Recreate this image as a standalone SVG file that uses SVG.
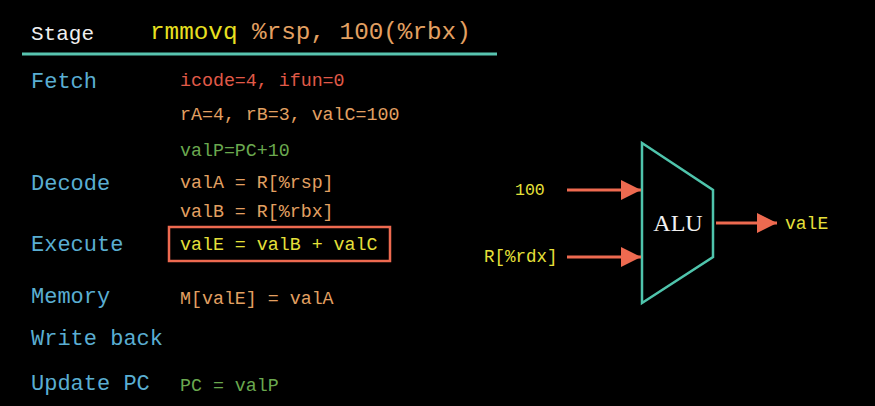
<svg xmlns="http://www.w3.org/2000/svg" width="875" height="406" viewBox="0 0 875 406">
<defs>
<style>
.mono{font-family:"Liberation Mono","DejaVu Sans Mono",monospace}
.stage{font-size:22px;fill:#5aaed2}
.val{font-size:18.3px}
.red{fill:#e05a48}
.org{fill:#e3a062}
.grn{fill:#6aa84f}
.yel{fill:#e6e03a}
.wire{stroke:#ee6a50;stroke-width:3;fill:none}
</style>
<marker id="ah2" viewBox="0 0 10 10" refX="10" refY="5" markerWidth="20" markerHeight="20" markerUnits="userSpaceOnUse" orient="auto">
<path d="M0,0 L10,5 L0,10 z" fill="#ee6a50"/>
</marker>
</defs>
<rect width="875" height="406" fill="#000"/>
<g id="header">
<text class="mono" x="31" y="40" font-size="21" fill="#f0f0f0">Stage</text>
<text class="mono" x="150" y="39" font-size="24.3"><tspan fill="#e8e020">rmmovq</tspan><tspan fill="#e3a062"> %rsp, 100(%rbx)</tspan></text>
<line x1="22" y1="54" x2="497" y2="54" stroke="#58c4b0" stroke-width="3"/>
</g>
<g id="stages" class="mono stage">
<text x="31" y="88">Fetch</text>
<text x="31" y="190">Decode</text>
<text x="31" y="251">Execute</text>
<text x="31" y="303">Memory</text>
<text x="31" y="345">Write back</text>
<text x="31" y="390">Update PC</text>
</g>
<g id="values" class="mono val">
<text class="red" x="180" y="86">icode=4, ifun=0</text>
<text class="org" x="180" y="120">rA=4, rB=3, valC=100</text>
<text class="grn" x="180" y="156">valP=PC+10</text>
<text class="org" x="180" y="188">valA = R[%rsp]</text>
<text class="org" x="180" y="217">valB = R[%rbx]</text>
<g id="execute-box">
<rect x="169" y="227" width="221" height="34" fill="none" stroke="#ee6a50" stroke-width="2.5"/>
<text class="yel" x="180" y="250">valE = valB + valC</text>
</g>
<text class="org" x="180" y="304">M[valE] = valA</text>
<text class="grn" x="180" y="391">PC = valP</text>
</g>
<g id="alu">
<polygon points="642,143 713,190 713,257 642,303" fill="none" stroke="#4fc4ac" stroke-width="2.5"/>
<text x="678" y="231" font-family="Liberation Serif,serif" font-size="24" fill="#f0f0f0" text-anchor="middle">ALU</text>
</g>
<g id="in-100"><text class="mono yel" x="515" y="195" font-size="16.5">100</text></g>
<g id="in-rdx"><text class="mono yel" x="484" y="262" font-size="17.5">R[%rdx]</text></g>
<g id="out-valE"><text class="mono yel" x="785" y="229" font-size="18">valE</text></g>
<g id="connectors">
<line class="wire" x1="567" y1="190" x2="641" y2="190" marker-end="url(#ah2)"/>
<line class="wire" x1="567" y1="257" x2="641" y2="257" marker-end="url(#ah2)"/>
<line class="wire" x1="716" y1="223" x2="777" y2="223" marker-end="url(#ah2)"/>
</g>
</svg>
